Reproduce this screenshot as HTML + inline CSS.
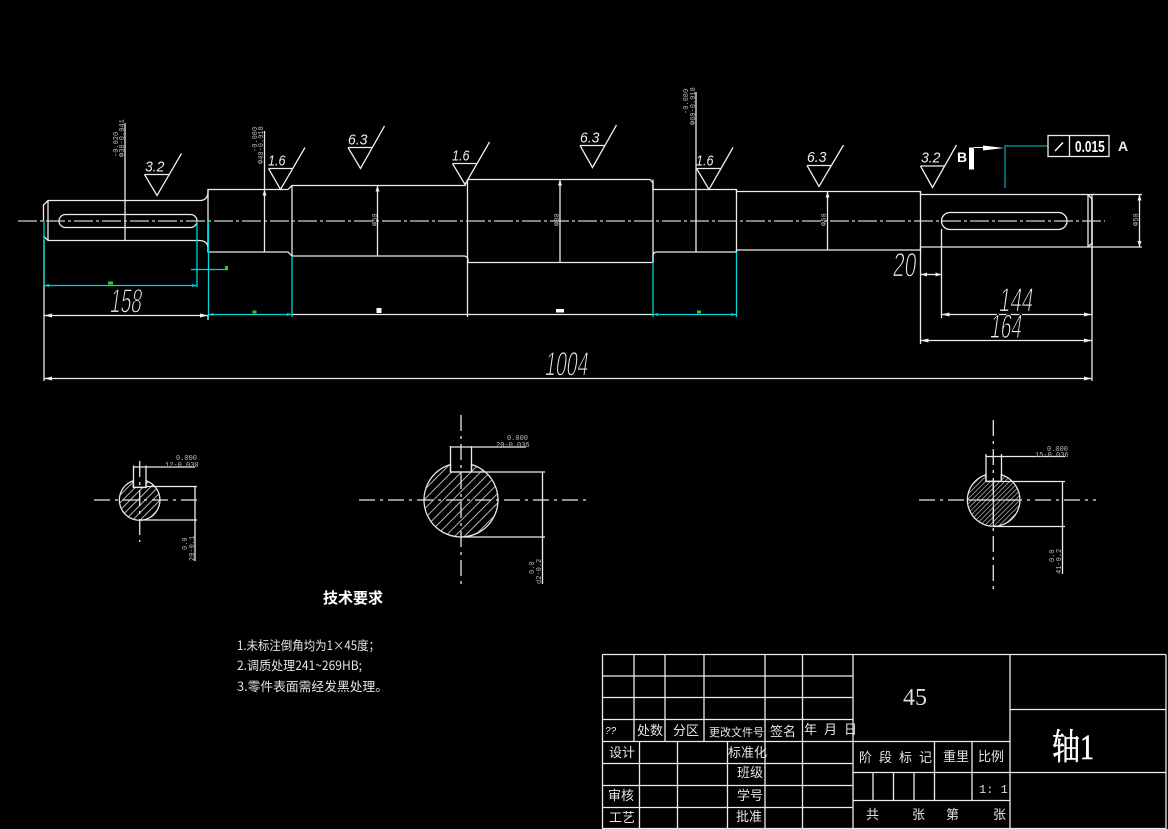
<!DOCTYPE html>
<html><head><meta charset="utf-8"><style>
html,body{margin:0;padding:0;background:#000;width:1168px;height:829px;overflow:hidden}
svg{display:block}
text{font-family:"Liberation Sans","WenQuanYi Zen Hei","Noto Sans CJK SC",sans-serif;fill:#eee}
.big{font-size:34px;stroke:#000;stroke-width:1.2px}
.r{font-size:14px;font-style:italic}
.m{font-family:"Liberation Mono",monospace;font-size:7px;fill:#bbb}
.t{font-family:"WenQuanYi Zen Hei","Noto Sans CJK SC",sans-serif;font-size:13px;fill:#e4e4e4}
.l{fill:none;stroke:#ececec;stroke-width:1.3}
.c{fill:none;stroke:#00d8d8;stroke-width:1.3}
.cl{fill:none;stroke:#d0d0d0;stroke-width:1.3;stroke-dasharray:19 3 3 3}
.cs{fill:none;stroke:#e6e6e6;stroke-width:1.3;stroke-dasharray:16 5 3 5}
.a{fill:#eee;stroke:none}
.g{fill:#1fd01f}
</style></head><body>
<svg width="1168" height="829" viewBox="0 0 1168 829" xmlns="http://www.w3.org/2000/svg">
<defs>
<pattern id="h1" width="5.3" height="5.3" patternUnits="userSpaceOnUse" patternTransform="rotate(-45)"><line x1="0" y1="0" x2="5.3" y2="0" stroke="#ddd" stroke-width="1.6"/></pattern>
<pattern id="h2" width="6.8" height="6.8" patternUnits="userSpaceOnUse" patternTransform="rotate(-45)"><line x1="0" y1="0" x2="6.8" y2="0" stroke="#ddd" stroke-width="1.6"/></pattern>
<pattern id="h3" width="3.4" height="3.4" patternUnits="userSpaceOnUse" patternTransform="rotate(-45)"><line x1="0" y1="0" x2="3.4" y2="0" stroke="#ddd" stroke-width="1.2"/></pattern>
</defs>
<rect width="1168" height="829" fill="#000"/>

<!-- shaft outline -->
<path class="l" d="M43.500 221V205L48 200.500H200Q207 200.500 208 193V189.500H288L292 185.500H465L468 179.500H650L653 183V189.500H736.500V191.500H920.500V194.500H1092V247H920.500V250H736.500V252H657Q653 252 653 256V262.500H468V259Q467 256 464 256H296L292 256 L288 252H208V247Q207 241 200 240.500H48L43.500 236"/>
<path class="l" d="M48 200.500V240.500M208 189.500V252M292 185.500V256M467.500 179.500V262.500M653 179.500V262.500M736.500 189.500V252M920.500 191.500V250M1088 194.500V247M1088 194.500L1092 199V243L1088 247"/>
<path class="l" d="M1088 194.500L1092 199V315"/>
<!-- keyways -->
<rect class="l" x="59" y="214.500" width="138" height="13" rx="6.500"/>
<rect class="l" x="941.500" y="212.500" width="125.500" height="17" rx="8.500"/>
<!-- centre line -->
<line class="cl" x1="18" y1="221" x2="1105" y2="221"/>

<!-- dimension lines white -->
<path class="l" d="M125 123V241M264.500 131V252M377.500 185V256M560 179V263M696 92V252M827.500 191V250"/>
<path class="l" d="M1092 194.500H1142M1092 247H1142M1139.500 194.500V247"/>
<path class="l" d="M44 240V381M44 315.500H208M44 378.500H1092M292 314.500H653M1092 247V381"/>
<path class="l" d="M941.500 229V318M920.500 250V344M921 274.500H941.500M941.500 314.500H1092M920.500 340.500H1092"/>
<path class="l" d="M208 316V320M467.500 262V317"/>
<!-- cyan -->
<path class="c" d="M44 221V285.500M44 285.500H197M197 221V287M191 269.500H228M208.500 221V317M208.500 314.500H292M292 256V317M653 262V317M653 314.500H736.500M736.500 252V317"/>
<!-- arrowheads -->
<path class="a" d="M44 315.500l8-2v4zM208 315.500l-8-2v4zM44 378.500l8-2v4zM1092 378.500l-8-2v4zM941.500 314.500l8-2v4zM1092 314.500l-8-2v4zM920.500 340.500l8-2v4zM1092 340.500l-8-2v4zM921 274.500l6-2v4zM941.500 274.500l-6-2v4zM1139.500 194.500l-2 6h4zM1139.500 247l-2-6h4zM377.500 185.500l-2 6h4zM560 179.500l-2 6h4zM827.500 191.500l-2 6h4zM264.500 189.500l-2 6h4z"/>
<path d="M44 285.500l5-1.500v3zM197 285.500l-5-1.500v3zM208.500 314.500l5-1.500v3zM292 314.500l-5-1.500v3zM653 314.500l5-1.500v3zM736.500 314.500l-5-1.500v3z" fill="#00d8d8"/>
<rect x="376.500" y="308" width="5" height="5" fill="#fff"/>
<rect x="556" y="309" width="8" height="3.500" fill="#fff"/>
<rect x="108" y="281.500" width="5" height="3" class="g"/><rect x="225" y="266" width="3" height="3" class="g"/><rect x="252.500" y="310.500" width="4" height="3" class="g"/><rect x="697" y="310.500" width="4" height="3" class="g"/>

<!-- big dims -->
<text class="big" transform="translate(109,312.500) skewX(-8) scale(.56,1)">158</text>
<text class="big" transform="translate(544,375.500) skewX(-8) scale(.57,1)">1004</text>
<text class="big" transform="translate(892,276.500) skewX(-6) scale(.62,1)">20</text>
<text class="big" transform="translate(998,311.500) skewX(-8) scale(.6,1)">144</text>
<text class="big" transform="translate(989,338) skewX(-8) scale(.56,1)">164</text>

<!-- roughness -->
<path class="l" d="M144.500 174.500H169M144.500 174.500L157 195.500L181.500 153.500"/>
<path class="l" d="M268.500 168.500H293M268.500 168.500L280.500 189.500L305 147.500"/>
<path class="l" d="M348 147.500H372M348 147.500L360.500 168.500L384.500 126"/>
<path class="l" d="M452.500 163.500H477.500M452.500 163.500L465 184.500L489.500 142"/>
<path class="l" d="M580 145.500H604.500M580 145.500L592.500 167.500L616.500 125"/>
<path class="l" d="M696.500 168.500H721.500M696.500 168.500L709 189.500L733 147.500"/>
<path class="l" d="M807 165.500H831.500M807 165.500L819 186.500L843.500 145"/>
<path class="l" d="M920.500 166H944.500M920.500 166L932.500 187.500L956.500 145"/>
<text class="r" transform="translate(145,171.500) scale(1,1.05)">3.2</text>
<text class="r" transform="translate(268,165.500) scale(.9,1.05)">1.6</text>
<text class="r" transform="translate(348,144.500) scale(1,1.05)">6.3</text>
<text class="r" transform="translate(452,160.500) scale(.9,1.05)">1.6</text>
<text class="r" transform="translate(580,142.500) scale(1,1.05)">6.3</text>
<text class="r" transform="translate(696,165.500) scale(.9,1.05)">1.6</text>
<text class="r" transform="translate(807,162) scale(1,1.05)">6.3</text>
<text class="r" transform="translate(921,162.500) scale(1,1.05)">3.2</text>

<!-- small rotated tolerance text -->
<text class="m" transform="translate(118,157) rotate(-90)">-0.020</text>
<text class="m" transform="translate(124,157) rotate(-90)">&#934;38-0.041</text>
<text class="m" transform="translate(257,152) rotate(-90)">-0.080</text>
<text class="m" transform="translate(263,164) rotate(-90)">&#934;40-0.018</text>
<text class="m" transform="translate(688,114) rotate(-90)">-0.080</text>
<text class="m" transform="translate(695,125) rotate(-90)">&#934;60-0.018</text>
<text class="m" transform="translate(377,226) rotate(-90)">&#934;50</text>
<text class="m" transform="translate(559,226) rotate(-90)">&#934;80</text>
<text class="m" transform="translate(826,226) rotate(-90)">&#934;50</text>
<text class="m" transform="translate(1138,226) rotate(-90)">&#934;50</text>

<!-- datum / FCF -->
<text x="957" y="162" style="font-size:14px;font-weight:bold;fill:#fff">B</text>
<rect x="969" y="147.500" width="5" height="22" fill="#fff"/>
<path d="M974 147.500H984" stroke="#fff"/>
<path d="M983 145.500L1004 148L983 150.500Z" fill="#fff"/>
<path d="M1005 188V146H1048" fill="none" stroke="#0f9c9c" stroke-width="1.300"/>
<rect class="l" x="1048" y="135.500" width="61" height="21"/>
<line class="l" x1="1069.500" y1="135.500" x2="1069.500" y2="156.500"/>
<path d="M1055 151L1063 142.500" stroke="#fff" stroke-width="1.500"/>
<text transform="translate(1075,152) scale(.85,1.15)" style="font-size:14px;font-weight:bold;fill:#fff">0.015</text>
<text x="1118" y="151" style="font-size:14px;font-weight:bold;fill:#eee">A</text>

<!-- section 1 -->
<path d="M133.300 480.700V487.300H146V480.700A20.300 20.300 0 1 1 133.300 480.700Z" fill="url(#h1)" stroke="#e6e6e6" stroke-width="1.300"/>
<path class="l" d="M133.500 465.500V487.500H146V465.500M133.500 467H195M146 486.500H197M140 520H197M195 487V561"/>
<line class="cs" x1="94" y1="500" x2="199" y2="500"/>
<line class="cs" x1="139.700" y1="461" x2="139.700" y2="542"/>
<text class="m" x="176" y="460">0.000</text><text class="m" x="165" y="467">12-0.030</text>
<text class="m" transform="translate(187,550) rotate(-90)">0.0</text>
<text class="m" transform="translate(194,561) rotate(-90)">20-0.1</text>

<!-- section 2 -->
<path d="M450.500 464.500V472H471.500V464.500A37 37 0 1 1 450.500 464.500Z" fill="url(#h2)" stroke="#e6e6e6" stroke-width="1.300"/>
<path class="l" d="M450.500 446V472H471.500V446M450.500 447H526M471 472H545M461 537H545M542.500 472V584"/>
<line class="cs" x1="359" y1="500" x2="589" y2="500"/>
<line class="cs" x1="461" y1="415" x2="461" y2="585"/>
<text class="m" x="507" y="440">0.000</text><text class="m" x="496" y="447">20-0.036</text>
<text class="m" transform="translate(534,574) rotate(-90)">0.0</text>
<text class="m" transform="translate(541,584) rotate(-90)">d2-0.2</text>

<!-- section 3 -->
<path d="M986 474.800V481.300H1001.300V474.800A26.300 26.300 0 1 1 986 474.800Z" fill="url(#h3)" stroke="#e6e6e6" stroke-width="1.300"/>
<path class="l" d="M986 454V481.500H1001.500V454M986 456.500H1065M1001 481.500H1065M993 526.500H1065M1062.500 481V574"/>
<line class="cs" x1="919" y1="500" x2="1096" y2="500"/>
<line class="cs" x1="993.300" y1="420" x2="993.300" y2="591"/>
<line x1="967" y1="500" x2="1020" y2="500" stroke="#eee"/>
<line x1="993.300" y1="482" x2="993.300" y2="526" stroke="#eee"/>
<text class="m" x="1047" y="451">0.000</text><text class="m" x="1035" y="457">15-0.036</text>
<text class="m" transform="translate(1054,562) rotate(-90)">0.0</text>
<text class="m" transform="translate(1061,574) rotate(-90)">41-0.2</text>

<!-- tech notes -->
<text x="323" y="603" style="font-size:15px;font-weight:bold;fill:#fff;font-family:'Noto Sans CJK SC',sans-serif">技术要求</text>
<text class="t" x="237" y="650" textLength="143" lengthAdjust="spacingAndGlyphs" style="font-size:12.500px">1.未标注倒角均为1×45度；</text>
<text class="t" x="237" y="670" textLength="125" lengthAdjust="spacingAndGlyphs" style="font-size:12.500px">2.调质处理241~269HB;</text>
<text class="t" x="237" y="691" textLength="151" lengthAdjust="spacingAndGlyphs" style="font-size:12.500px">3.零件表面需经发黑处理。</text>

<!-- title block -->
<path class="l" d="M602.500 654.500H1166M602.500 676H853M602.500 697.500H853M602.500 719.500H853M602.500 741.500H1010M602.500 763.500H853M602.500 785.500H853M602.500 807.500H853M602.500 828.500H1166M853 772.500H1166M853 800.500H1010M1010 709.500H1166"/>
<path class="l" d="M602.500 654.500V829M634 654.500V741.500M665 654.500V741.500M704 654.500V741.500M765 654.500V829M802.500 654.500V829M853 654.500V829M1010 654.500V829M1166 654.500V829"/>
<path class="l" d="M639.500 741.500V829M677.500 741.500V829M727.500 741.500V829M934.500 741.500V800.500M972 741.500V800.500M873 772.500V800.500M893.500 772.500V800.500M914 772.500V800.500"/>
<text class="r" x="605" y="734" style="font-size:10px">??</text>
<text class="t" x="637" y="735">处数</text>
<text class="t" x="673" y="735">分区</text>
<text class="t" x="709" y="736" style="font-size:11px">更改文件号</text>
<text class="t" x="770" y="736">签名</text>
<text class="t" x="804" y="734" style="letter-spacing:7px">年月日</text>
<text class="t" x="609" y="757">设计</text>
<text class="t" x="728" y="757">标准化</text>
<text class="t" x="737" y="777">班级</text>
<text class="t" x="608" y="800">审核</text>
<text class="t" x="737" y="800">学号</text>
<text class="t" x="609" y="822">工艺</text>
<text class="t" x="736" y="821">批准</text>
<text class="t" x="859" y="762" style="letter-spacing:7px">阶段标记</text>
<text class="t" x="943" y="761">重里</text>
<text class="t" x="978" y="761">比例</text>
<text class="t" x="866" y="819">共</text>
<text class="t" x="912" y="819">张</text>
<text class="t" x="946" y="819">第</text>
<text class="t" x="993" y="819">张</text>
<text x="979" y="793" style="font-family:'Liberation Mono',monospace;font-size:12px;fill:#ddd">1: 1</text>
<text x="903" y="705" style="font-family:'Liberation Serif',serif;font-size:24px;fill:#ddd">45</text>
<text x="1052" y="759" style="font-family:'Liberation Serif','Noto Serif CJK SC',serif;font-size:36px;fill:#fff;stroke:#fff;stroke-width:.6px" textLength="42" lengthAdjust="spacingAndGlyphs">轴1</text>
</svg>
</body></html>
